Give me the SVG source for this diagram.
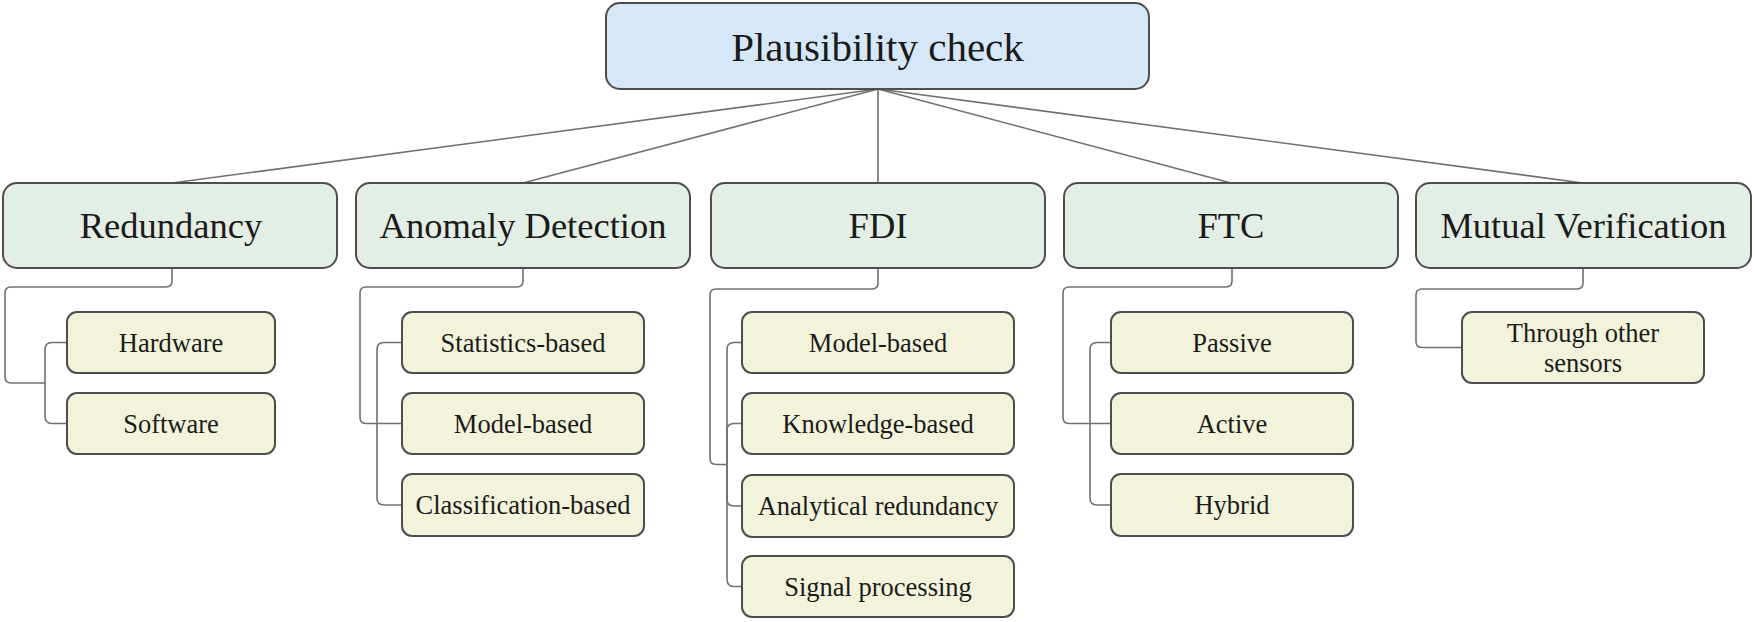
<svg xmlns="http://www.w3.org/2000/svg" width="1755" height="622" viewBox="0 0 1755 622">
<style>
text{font-family:"Liberation Serif","Times New Roman",serif;fill:#1b1b1b;text-anchor:middle}
.root rect{fill:#d6e8f7;stroke:#4d4d4d;stroke-width:2}
.l1 rect{fill:#e3eee4;stroke:#4d4d4d;stroke-width:2}
.l2 rect{fill:#f2f3da;stroke:#4d4d4d;stroke-width:2}
.root text{font-size:41px}
.l1 text{font-size:36.5px}
.l2 text{font-size:26.5px}
#connectors path,#connectors line{fill:none;stroke:#707070;stroke-width:1.6}
</style>
<rect width="1755" height="622" fill="#ffffff"/>
<g id="connectors">
<line x1="878" y1="89" x2="172" y2="183"/>
<line x1="878" y1="89" x2="523" y2="183"/>
<line x1="878" y1="89" x2="878" y2="183"/>
<line x1="878" y1="89" x2="1231" y2="183"/>
<line x1="878" y1="89" x2="1583" y2="183"/>
<path d="M172 268 V281 Q172 287 166 287 H11 Q5 287 5 293 V377 Q5 383 11 383 H45"/>
<path d="M45 383 V349.5 Q45 342.5 52 342.5 H67"/>
<path d="M45 383 V416.5 Q45 423.5 52 423.5 H67"/>
<path d="M523 268 V281 Q523 287 517 287 H366 Q360 287 360 293 V417.5 Q360 423.5 366 423.5 H402"/>
<path d="M377 423.5 V349.5 Q377 342.5 384 342.5 H402"/>
<path d="M377 423.5 V498 Q377 505 384 505 H402"/>
<path d="M878 268 V283 Q878 289 872 289 H716 Q710 289 710 295 V458.5 Q710 464.5 716 464.5 H727"/>
<path d="M727 464.5 V349.5 Q727 342.5 734 342.5 H742"/>
<path d="M727 464.5 V430.5 Q727 423.5 734 423.5 H742"/>
<path d="M727 464.5 V499 Q727 506 734 506 H742"/>
<path d="M727 464.5 V579.5 Q727 586.5 734 586.5 H742"/>
<path d="M1232 268 V281 Q1232 287 1226 287 H1069 Q1063 287 1063 293 V417.5 Q1063 423.5 1069 423.5 H1111"/>
<path d="M1090 423.5 V349.5 Q1090 342.5 1097 342.5 H1111"/>
<path d="M1090 423.5 V498 Q1090 505 1097 505 H1111"/>
<path d="M1583 268 V283 Q1583 289 1577 289 H1422 Q1416 289 1416 295 V341.5 Q1416 347.5 1422 347.5 H1462"/>
</g>
<g id="plausibility-check" class="root"><rect x="606" y="3" width="543" height="86" rx="14"/><text x="877.5" y="61">Plausibility check</text></g>
<g id="redundancy" class="l1"><rect x="3" y="183" width="334" height="85" rx="14"/><text x="171" y="238">Redundancy</text></g>
<g id="anomaly-detection" class="l1"><rect x="356" y="183" width="334" height="85" rx="14"/><text x="523" y="238">Anomaly Detection</text></g>
<g id="fdi" class="l1"><rect x="711" y="183" width="334" height="85" rx="14"/><text x="878" y="238">FDI</text></g>
<g id="ftc" class="l1"><rect x="1064" y="183" width="334" height="85" rx="14"/><text x="1231" y="238">FTC</text></g>
<g id="mutual-verification" class="l1"><rect x="1416" y="183" width="335" height="85" rx="14"/><text x="1583.5" y="238">Mutual Verification</text></g>
<g id="hardware" class="l2"><rect x="67" y="312" width="208" height="61" rx="10"/><text x="171" y="351.5">Hardware</text></g>
<g id="software" class="l2"><rect x="67" y="393" width="208" height="61" rx="10"/><text x="171" y="432.5">Software</text></g>
<g id="statistics-based" class="l2"><rect x="402" y="312" width="242" height="61" rx="10"/><text x="523" y="351.5">Statistics-based</text></g>
<g id="anomaly-model-based" class="l2"><rect x="402" y="393" width="242" height="61" rx="10"/><text x="523" y="432.5">Model-based</text></g>
<g id="classification-based" class="l2"><rect x="402" y="474" width="242" height="62" rx="10"/><text x="523" y="514">Classification-based</text></g>
<g id="fdi-model-based" class="l2"><rect x="742" y="312" width="272" height="61" rx="10"/><text x="878" y="351.5">Model-based</text></g>
<g id="knowledge-based" class="l2"><rect x="742" y="393" width="272" height="61" rx="10"/><text x="878" y="432.5">Knowledge-based</text></g>
<g id="analytical-redundancy" class="l2"><rect x="742" y="475" width="272" height="62" rx="10"/><text x="878" y="515">Analytical redundancy</text></g>
<g id="signal-processing" class="l2"><rect x="742" y="556" width="272" height="61" rx="10"/><text x="878" y="595.5">Signal processing</text></g>
<g id="passive" class="l2"><rect x="1111" y="312" width="242" height="61" rx="10"/><text x="1232" y="351.5">Passive</text></g>
<g id="active" class="l2"><rect x="1111" y="393" width="242" height="61" rx="10"/><text x="1232" y="432.5">Active</text></g>
<g id="hybrid" class="l2"><rect x="1111" y="474" width="242" height="62" rx="10"/><text x="1232" y="514">Hybrid</text></g>
<g id="through-other-sensors" class="l2"><rect x="1462" y="312" width="242" height="71" rx="10"/><text x="1583" y="342">Through other</text><text x="1583" y="372">sensors</text></g>
</svg>
